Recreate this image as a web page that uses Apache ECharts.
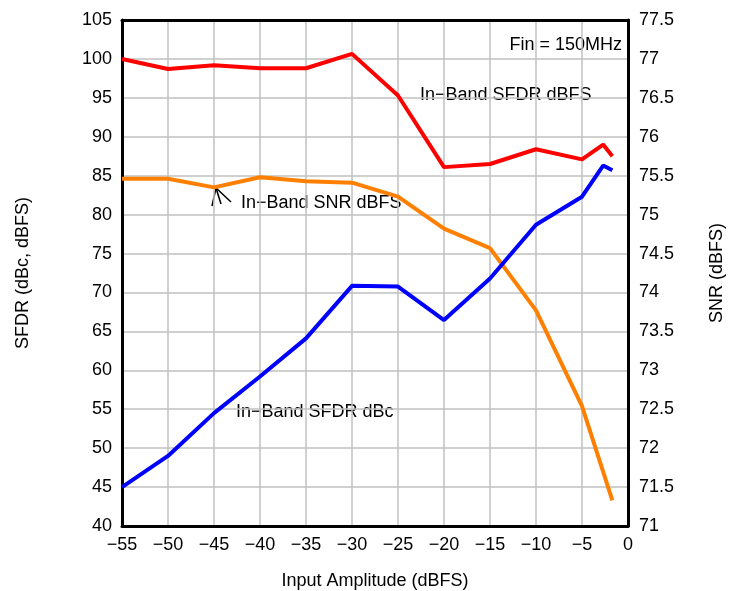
<!DOCTYPE html>
<html>
<head>
<meta charset="utf-8">
<script src="https://cdn.jsdelivr.net/npm/echarts@6/dist/echarts.min.js"></script>
<style>
html,body{margin:0;padding:0;background:#fff}
#main{width:730px;height:591px}
</style>
</head>
<body>
<div id="main"></div>
<script>
// input amplitude (dBFS)
const amp=[-55,-50,-45,-40,-35,-30,-25,-20,-15,-10,-5,-2.7,-1.7]
const sfdrDbfs=[100,98.7,99.2,98.8,98.8,100.65,95.3,86.1,86.5,88.4,87.1,89.0,87.5]
const sfdrDbc=[45.0,49.0,54.5,59.2,64.1,70.85,70.75,66.45,71.8,78.7,82.3,86.3,85.7]
const snrAmp=[-55,-50,-45,-40,-35,-30,-25,-20,-15,-10,-5,-1.7]
const snr=[75.46,75.46,75.35,75.48,75.43,75.41,75.23,74.82,74.57,73.77,72.54,71.33]

const font='"Liberation Sans", Arial, sans-serif'
const fs=18
const pair=(xs,ys)=>xs.map((x,i)=>[x,ys[i]])
const border={show:true,onZero:false,lineStyle:{color:'#000',width:3}}

const myChart=echarts.init(document.querySelector('#main'))
const option={
  animation:false,
  grid:{left:122,right:102,top:20,bottom:65,outerBoundsMode:'none',containLabel:false},
  xAxis:[
    {
      type:'value',min:-55,max:0,interval:5,
      name:'Input Amplitude (dBFS)',nameLocation:'middle',nameGap:46,
      nameTextStyle:{fontSize:fs,color:'#000',fontFamily:font},
      axisLine:border,axisTick:{show:false},
      axisLabel:{fontSize:fs,color:'#000',fontFamily:font,margin:10,
        formatter:v=>String(v).replace('-','\u2212')},
      splitLine:{lineStyle:{color:'#c0c0c0',width:1.5}}
    },
    {
      type:'value',min:-55,max:0,interval:5,position:'top',
      axisLine:border,axisTick:{show:false},axisLabel:{show:false},splitLine:{show:false}
    }
  ],
  yAxis:[
    {
      type:'value',min:40,max:105,interval:5,
      name:'SFDR (dBc, dBFS)',nameLocation:'middle',nameGap:90,nameRotate:90,
      nameTextStyle:{fontSize:fs,color:'#000',fontFamily:font},
      axisLine:border,axisTick:{show:false},
      axisLabel:{fontSize:fs,color:'#000',fontFamily:font,margin:10},
      splitLine:{lineStyle:{color:'#c0c0c0',width:1.5}}
    },
    {
      type:'value',min:71,max:77.5,interval:0.5,position:'right',
      name:'SNR (dBFS)',nameLocation:'middle',nameGap:80,nameRotate:90,
      nameTextStyle:{fontSize:fs,color:'#000',fontFamily:font},
      axisLine:border,axisTick:{show:false},
      axisLabel:{fontSize:fs,color:'#000',fontFamily:font,margin:11},
      splitLine:{show:false}
    }
  ],
  series:[
    {name:'In-Band SFDR dBFS',type:'line',yAxisIndex:0,data:pair(amp,sfdrDbfs),
      showSymbol:false,lineStyle:{color:'#ff0000',width:4},itemStyle:{color:'#ff0000'}},
    {name:'In-Band SNR dBFS',type:'line',yAxisIndex:1,data:pair(snrAmp,snr),
      showSymbol:false,lineStyle:{color:'#ff8000',width:4},itemStyle:{color:'#ff8000'}},
    {name:'In-Band SFDR dBc',type:'line',yAxisIndex:0,data:pair(amp,sfdrDbc),
      showSymbol:false,lineStyle:{color:'#0000ff',width:4},itemStyle:{color:'#0000ff'}}
  ],
  graphic:[
    {type:'rect',shape:{x:489,y:22,width:137,height:45},style:{fill:'#fff'}},
    {type:'text',x:622,y:45,style:{text:'Fin = 150MHz',fontSize:fs,fontFamily:font,fill:'#000',align:'right',verticalAlign:'middle'}},
    {type:'text',x:420,y:95,style:{text:'In\u2212Band SFDR dBFS',fontSize:fs,fontFamily:font,fill:'#000',verticalAlign:'middle'}},
    {type:'text',x:241,y:203,style:{text:'In\u2212Band SNR dBFS',fontSize:fs,fontFamily:font,fill:'#000',verticalAlign:'middle'}},
    {type:'text',x:236,y:412,style:{text:'In\u2212Band SFDR dBc',fontSize:fs,fontFamily:font,fill:'#000',verticalAlign:'middle'}},
    {type:'polyline',shape:{points:[[212,206],[216,188],[231,202]]},style:{stroke:'#000',lineWidth:1.5,fill:null}},
    {type:'line',shape:{x1:216,y1:188,x2:221,y2:204},style:{stroke:'#000',lineWidth:1.5}}
  ]
}
myChart.setOption(option)
</script>
</body>
</html>
